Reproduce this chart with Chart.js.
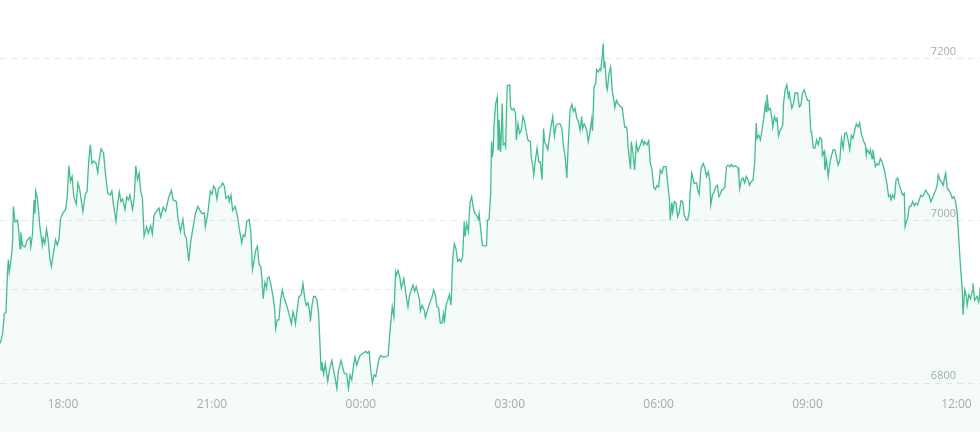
<!DOCTYPE html>
<html>
<head>
<meta charset="utf-8">
<script src="https://cdn.jsdelivr.net/npm/chart.js@4.4.1/dist/chart.umd.min.js"></script>
<style>
  html, body { margin: 0; padding: 0; background: #fff; }
  #wrap { width: 980px; height: 432px; }
</style>
</head>
<body>
<div id="wrap"><canvas id="priceChart" width="980" height="432"></canvas></div>
<script>
// minutes since 00:00 of the first day (18:00 = 1080, next day 12:00 = 2160)
const minutes = [
  1004,1007,1009,1011,1013,1014,1015,1018,1019,1020,1022,1025,1026,1028,1029,1031,1034,1037,1040,1041,
  1043,1045,1046,1047,1049,1052,1055,1056,1058,1060,1062,1064,1066,1068,1071,1073,1075,1077,1080,1083,
  1085,1087,1089,1091,1093,1096,1098,1100,1104,1107,1109,1111,1113,1115,1117,1120,1122,1124,1126,1129,
  1131,1134,1137,1139,1141,1144,1146,1148,1150,1152,1155,1157,1159,1161,1164,1166,1168,1170,1172,1174,
  1176,1178,1181,1183,1186,1188,1190,1193,1196,1198,1201,1204,1206,1208,1211,1213,1217,1219,1222,1225,
  1227,1229,1232,1234,1237,
  1240,1243,1245,1248,1251,1252,1255,1258,1260,1262,1264,1266,1268,1271,1273,1275,1277,1280,1281,1283,
  1285,1288,1291,1293,1296,1298,1300,1302,1305,1307,1309,1311,1313,1315,1317,1319,1320,1322,1324,1326,
  1327,1329,1331,1334,1336,1337,1339,1341,1343,1345,1347,1349,1351,1354,1356,1358,1360,1361,1363,1365,
  1368,1370,1372,1374,1376,1378,1379,1381,1383,1385,1387,1389,1391,1392,1393,1395,1397,1400,1402,1405,
  1407,1409,1411,1413,1416,1418,1420,1423,1425,1427,1429,1431,1433,1435,1437,1439,1443,1446,1448,1450,
  1452,1454,1456,1458,1460,1462,1464,1467,1471,1473,
  1475,1478,1480,1482,1483,1485,1487,1489,1492,1495,1497,1499,1501,1503,1505,1507,1509,1511,1512,1514,
  1517,1518,1520,1523,1526,1528,1530,1532,1534,1536,1538,1540,1541,1543,1545,1547,1549,1551,1553,1555,
  1557,1559,1561,1563,1565,1566,1568,1570,1572,1574,1576,1578,1580,1582,1583,1585,1587,1590,1592,1593,
  1595,1597,1598,1599,1600,1601,1603,1605,1606,1607,1609,1611,1612,1614,1615,1617,1620,1621,1623,1625,
  1627,1628,1630,1632,1634,1636,1638,1640,1642,1645,1646,1648,1649,1651,1653,1655,1657,1659,1661,1662,
  1664,1666,1668,1670,1672,1674,1676,1678,1681,1683,1685,1687,1689,1691,1693,1695,1697,1699,1701,1703,
  1705,1707,1708,1710,
  1711,1713,1715,1717,1719,1720,1722,1724,1725,1727,1729,1730,1732,1733,1734,1735,1737,1738,1740,1742,
  1744,1746,1747,1749,1751,1754,1756,1759,1761,1762,1763,1766,1767,1769,1771,1773,1775,1778,1780,1782,
  1783,1786,1788,1790,1792,1794,1796,1798,1800,1802,1804,1806,1809,1811,1813,1814,1816,1817,1819,1821,
  1823,1825,1827,1829,1831,1833,1835,1837,1838,1840,1842,1843,1846,1847,1849,1851,1852,1854,1856,1858,
  1860,1862,1863,1865,1867,1869,1871,1873,1875,1876,1878,1880,1882,1884,1886,1888,1890,1893,1896,1897,
  1898,1900,1902,1904,1906,1908,1910,1912,1914,1916,1918,1919,1921,1923,1925,1927,1929,1930,1931,1933,
  1935,1937,1938,1940,1942,1943,1945,
  1947,1950,1951,1953,1955,1957,1958,1961,1963,1965,1968,1970,1972,1974,1976,1978,1980,1982,1984,1985,
  1987,1989,1991,1993,1995,1997,1998,2000,2001,2003,2005,2007,2009,2011,2013,2015,2017,2019,2021,2023,
  2025,2027,2029,2031,2033,2035,2037,2039,2041,2043,2045,2048,2050,2051,2052,2055,2056,2058,2059,2062,
  2064,2066,2068,2070,2072,2074,2076,2078,2080,2081,2083,2085,2087,2089,2091,2093,2095,2097,2098,2100,
  2101,2103,2105,2107,2109,2111,2113,2115,2117,2119,2121,2123,2125,2127,2129,2131,2133,2135,2137,2138,
  2140,2142,2144,2146,2147,2149,2151,2153,2155,2157,2159,2161,2163,2165,2167,2168,2170,2172,2173,2175,
  2177,2179,2180,2182,2185,2187,2189
];

const prices = [
  6849,6861,6886,6887,6940,6952,6937,6960,6974,7018,6999,7001,6993,6966,6986,6970,6968,6977,6980,6968,
  6983,7026,7009,7037,7028,6993,6970,6979,6972,6990,6977,6954,6944,6958,6977,6970,6977,7003,7010,7014,
  7029,7068,7049,7055,7030,7021,7047,7040,7012,7034,7036,7073,7094,7071,7074,7071,7060,7077,7089,7084,
  7061,7034,7032,7037,7020,7000,7020,7036,7024,7027,7014,7030,7026,7032,7014,7028,7068,7051,7059,7036,
  7028,6981,6993,6985,6994,6984,7007,7012,7016,7005,7017,7012,7021,7030,7038,7026,7024,7003,6987,7002,
  6983,6979,6950,6972,6991,
  7009,7018,7014,7009,7010,6993,7009,7037,7033,7043,7040,7027,7040,7043,7047,7043,7028,7031,7024,7032,
  7013,7018,7005,6991,6973,6983,6981,6999,7002,6987,6940,6952,6964,6969,6946,6944,6935,6904,6924,6917,
  6929,6931,6923,6906,6890,6867,6878,6878,6902,6915,6906,6900,6894,6882,6873,6888,6880,6873,6890,6906,
  6909,6923,6906,6896,6899,6890,6876,6896,6907,6907,6902,6885,6839,6816,6826,6811,6824,6802,6816,6828,
  6816,6806,6793,6816,6828,6820,6812,6811,6793,6810,6804,6820,6832,6822,6828,6834,6837,6839,6837,6839,
  6816,6800,6810,6808,6819,6830,6834,6832,6833,6834,
  6861,6894,6882,6937,6933,6939,6931,6917,6929,6906,6894,6909,6915,6921,6913,6919,6911,6902,6889,6896,
  6889,6881,6888,6898,6906,6915,6909,6894,6893,6874,6874,6886,6874,6896,6902,6909,6896,6952,6972,6966,
  6950,6953,6950,6956,6999,6981,6997,6987,7023,7030,7016,7009,7007,7002,7009,6989,6970,6969,6970,7001,
  7002,7034,7098,7079,7088,7118,7145,7153,7088,7125,7085,7145,7094,7096,7092,7167,7168,7141,7137,7139,
  7133,7100,7120,7108,7112,7129,7123,7110,7100,7098,7079,7067,7057,7075,7090,7073,7073,7051,7114,7098,
  7094,7088,7103,7117,7129,7105,7118,7120,7120,7114,7092,7080,7053,7100,7137,7144,7135,7139,7127,7123,
  7112,7129,7114,7120,
  7118,7112,7098,7110,7125,7111,7166,7170,7187,7184,7188,7186,7205,7219,7190,7197,7166,7162,7182,7190,
  7160,7149,7140,7149,7145,7141,7140,7116,7116,7111,7092,7064,7098,7083,7063,7096,7086,7094,7100,7094,
  7098,7094,7099,7071,7063,7042,7039,7044,7042,7063,7059,7067,7067,7046,7028,7001,7023,7011,7024,7022,
  7005,7011,7025,7024,7007,7002,7001,7011,7034,7059,7051,7046,7047,7039,7033,7063,7067,7071,7065,7055,
  7061,7049,7020,7032,7036,7042,7044,7030,7034,7038,7039,7042,7067,7069,7067,7070,7067,7068,7066,7055,
  7040,7051,7053,7047,7055,7051,7044,7049,7050,7071,7121,7102,7106,7100,7112,7127,7144,7135,7156,7137,
  7139,7127,7116,7129,7123,7128,7105,
  7112,7118,7145,7162,7168,7153,7158,7139,7145,7158,7158,7141,7143,7158,7162,7155,7149,7149,7110,7110,
  7090,7090,7100,7094,7103,7101,7081,7086,7063,7075,7055,7071,7081,7088,7088,7079,7069,7075,7102,7090,
  7108,7109,7100,7088,7106,7102,7112,7120,7116,7121,7108,7098,7094,7081,7088,7083,7088,7077,7088,7067,
  7071,7069,7077,7073,7067,7057,7046,7030,7032,7026,7032,7028,7051,7053,7044,7038,7032,7034,6993,7001,
  7003,7018,7018,7024,7019,7022,7020,7026,7032,7030,7034,7038,7034,7032,7024,7028,7034,7038,7046,7057,
  7051,7048,7044,7055,7059,7040,7038,7034,7028,7030,7024,7009,6976,6942,6917,6884,6915,6907,6896,6909,
  6904,6913,6923,6902,6907,6900,6919
];

// tick positions and labels
const xTickMinutes = [1080, 1260, 1440, 1620, 1800, 1980, 2160];
const xTickLabels = ["18:00", "21:00", "00:00", "03:00", "06:00", "09:00", "12:00"];
const yTickValues = [6800, 7000, 7200];
const refPrice = 6916; // the extra dashed line without a label

const lineColor = "#41be8c";
const fillColor = "rgba(65, 190, 140, 0.055)";

// paint the strip under the plot (x labels area) in the same light green
const bottomFill = {
  id: "bottomFill",
  beforeDraw(chart) {
    const { ctx, chartArea, width, height } = chart;
    ctx.save();
    ctx.fillStyle = fillColor;
    ctx.fillRect(0, chartArea.bottom, width, height - chartArea.bottom);
    ctx.restore();
  },
};

const ctx = document.getElementById("priceChart");

const priceChart = new Chart(ctx, {
  type: "line",
  data: {
    datasets: [
      {
        label: "Price",
        data: minutes.map((m, i) => ({ x: m, y: prices[i] })),
        borderColor: lineColor,
        backgroundColor: fillColor,
        borderWidth: 1.3,
        pointRadius: 0,
        tension: 0,
        fill: "start",
      },
    ],
  },
  options: {
    responsive: false,
    animation: false,
    layout: { padding: 0 },
    plugins: {
      legend: { display: false },
      tooltip: { enabled: false },
    },
    scales: {
      x: {
        type: "linear",
        min: 1003.8,
        max: 2188.5,
        grid: { display: false, drawTicks: false },
        border: { display: false },
        afterBuildTicks: (scale) => {
          scale.ticks = xTickMinutes.map((v) => ({ value: v }));
        },
        afterFit: (scale) => {
          scale.height = 40;
          scale.paddingLeft = 0;
          scale.paddingRight = 0;
        },
        ticks: {
          padding: 5,
          color: "#a2adab",
          font: { family: "'Open Sans', sans-serif", size: 12 },
          maxRotation: 0,
          autoSkip: false,
          callback: (v) => xTickLabels[xTickMinutes.indexOf(v)],
        },
      },
      y: {
        position: "right",
        min: 6788.9,
        max: 7272.8,
        grid: {
          color: "#e4ebe8",
          lineWidth: 1,
          drawTicks: false,
        },
        border: { display: false, dash: [6, 5] },
        afterBuildTicks: (scale) => {
          scale.ticks = yTickValues.concat([refPrice]).map((v) => ({ value: v }));
        },
        afterFit: (scale) => {
          scale.width = 0;
          scale.paddingTop = 0;
          scale.paddingBottom = 0;
        },
        ticks: {
          mirror: true,
          padding: -24,
          labelOffset: -7,
          color: "#a2adab",
          font: { family: "'Open Sans', sans-serif", size: 11 },
          callback: (v) => (yTickValues.includes(v) ? String(v) : ""),
        },
      },
    },
  },
  plugins: [bottomFill],
});
</script>
</body>
</html>
